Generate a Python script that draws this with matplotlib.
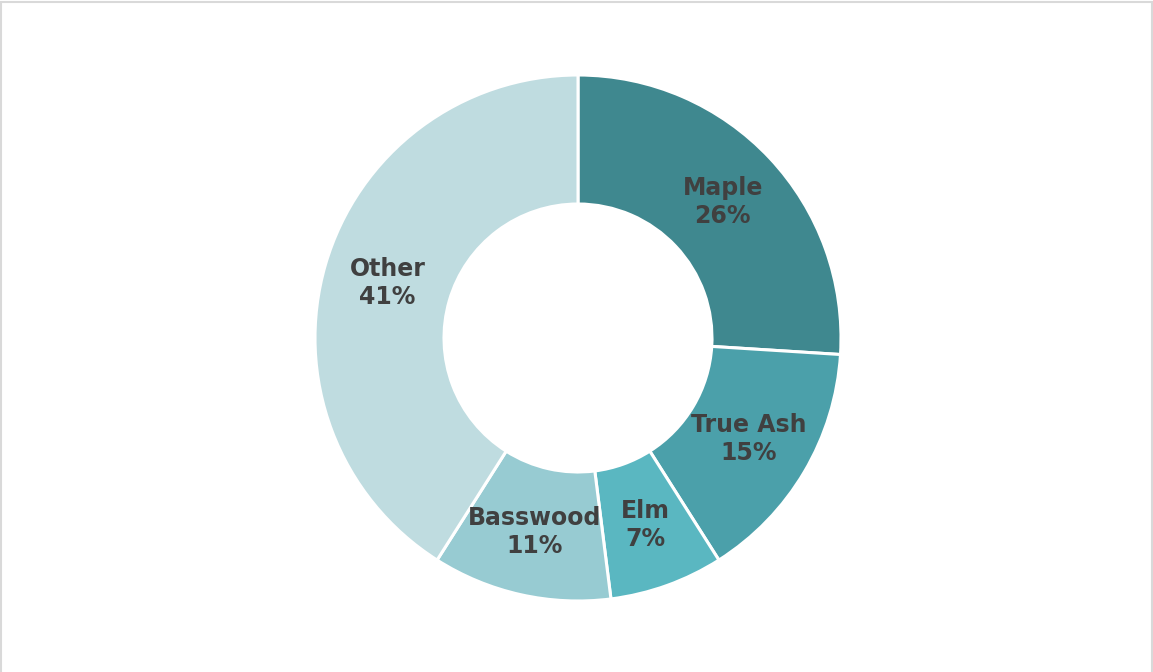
import matplotlib.pyplot as plt
from matplotlib.patches import Rectangle

plt.rcParams['font.family'] = ['DejaVu Sans']

# Data
species = ['Maple', 'True Ash', 'Elm', 'Basswood', 'Other']
shares = [26, 15, 7, 11, 41]
colors = ['#3F888F', '#4BA0AA', '#5AB7C1', '#97CBD2', '#BFDCE0']

W, H = 1153, 672
fig = plt.figure(figsize=(W / 100, H / 100), dpi=100)
ax = fig.add_axes([0, 0, 1, 1])

outer_r = 263
inner_r = 134
labels_txt = [f'{s}\n{v}%' for s, v in zip(species, shares)]

wedges, texts, autotexts = ax.pie(
    shares, colors=colors, startangle=90, counterclock=False,
    center=(578, H - 338), radius=outer_r,
    wedgeprops=dict(width=outer_r - inner_r, edgecolor='white', linewidth=2.2),
    autopct='%d%%', pctdistance=(outer_r + inner_r) / 2 / outer_r,
)
for t, lab in zip(autotexts, labels_txt):
    t.set_text(lab)
    t.set_fontsize(17)
    t.set_fontweight('bold')
    t.set_color('#404040')
    t.set_ha('center')
    t.set_va('center')
    t.set_multialignment('center')

ax.set_xlim(0, W)
ax.set_ylim(0, H)
ax.set_aspect('equal')
ax.axis('off')

fig.patches.append(Rectangle((0.5 / W, -0.01), 1 - 2 / W, 1.01 - 1.5 / H,
                             transform=fig.transFigure, fill=False,
                             edgecolor='#D9D9D9', linewidth=1.5))

fig.savefig('out.png', dpi=100)
